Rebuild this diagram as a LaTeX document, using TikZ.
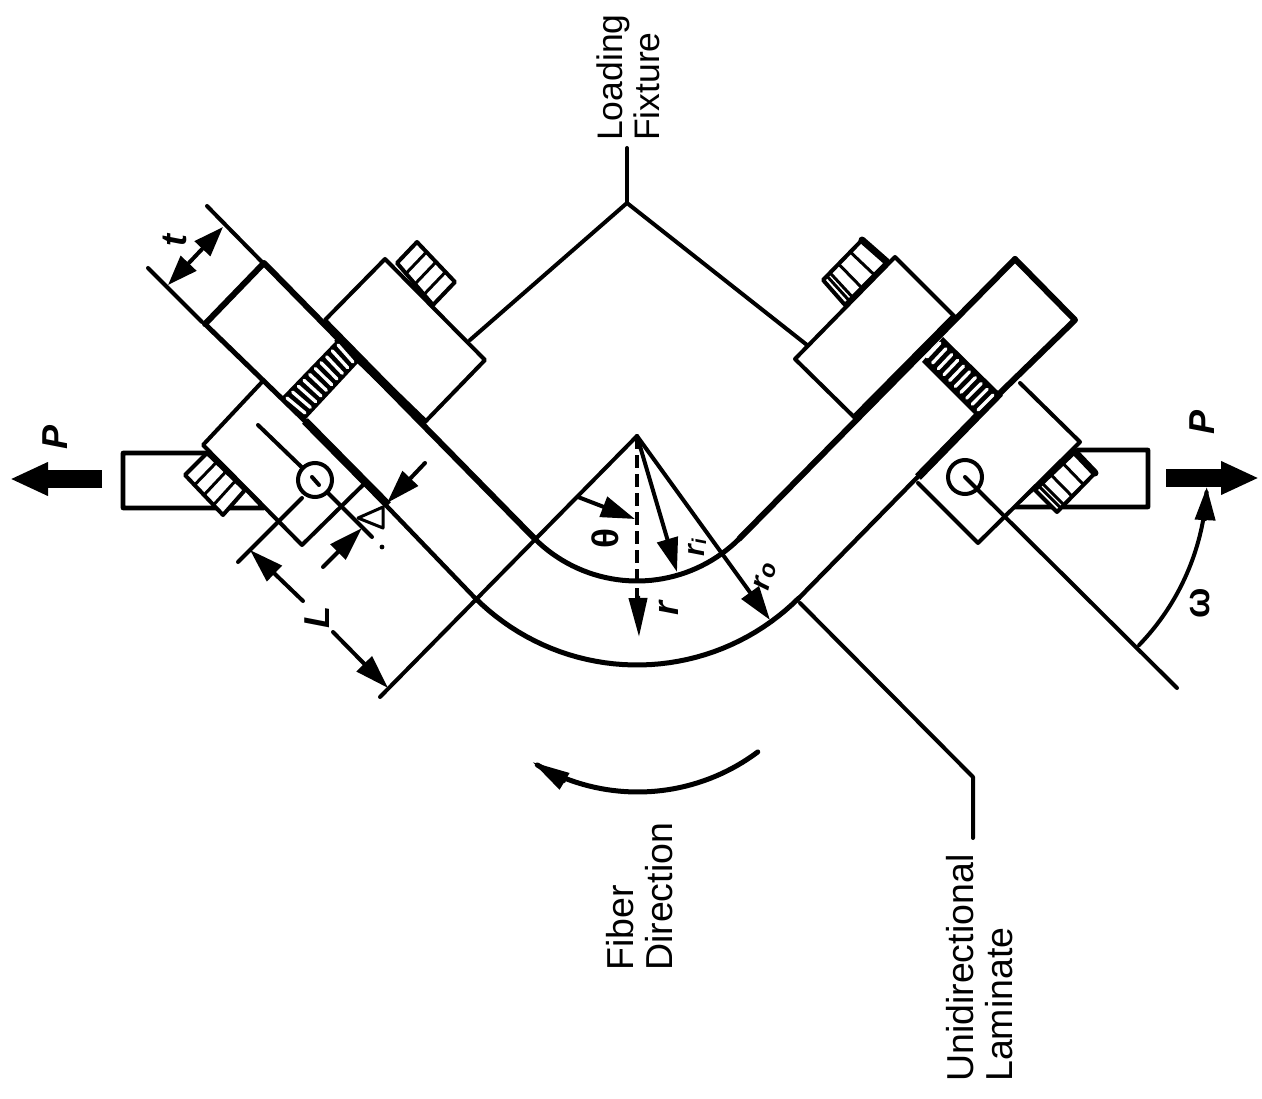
\documentclass[tikz,border=0pt]{standalone}
\usepackage{fontspec}
\setmainfont{Liberation Sans}
\usetikzlibrary{arrows.meta,calc}
\tikzset{
  thinl/.style={line width=4pt,line join=round,line cap=round},
  thickl/.style={line width=6pt,line join=round,line cap=round},
  heavyl/.style={line width=8pt,line join=round,line cap=butt},
  block/.style={thinl,fill=white},
  stripe/.style={white,line width=3.3pt,line cap=round},
  bigtip/.style={-{Triangle[length=34pt,width=21pt]}},
  both/.style={{Triangle[length=30pt,width=21pt]}-{Triangle[length=30pt,width=21pt]}},
  caption/.style={rotate=90,align=left,anchor=south west,inner sep=0pt,font=\fontsize{37.5}{39}\selectfont},
  sym/.style={rotate=90,inner sep=0pt,font=\fontsize{36}{36}\selectfont\bfseries\itshape},
  loadarrow/.style={line width=18pt,-{Triangle[length=38pt,width=31pt]}},
}
\begin{document}
\begin{tikzpicture}[x=1pt,y=-1pt]
\useasboundingbox (0,0) rectangle (1262,1099);
% key points
\coordinate (O) at (637,436);
\coordinate (LiE) at (534.5,538.5);
\coordinate (RiE) at (739.5,538.5);
\coordinate (LoE) at (475,598);
\coordinate (RoE) at (799,598);
\coordinate (LTa) at (264,263);
\coordinate (LTb) at (205,324);
\coordinate (RTa) at (1015,259);
\coordinate (RTb) at (1075,320);
% loading bars
\draw[thickl,line width=4.6pt,fill=white] (123,453) -- (212,453) -- (264,508) -- (123,508) -- cycle;
\draw[thickl,line width=4.6pt,fill=white] (1148,450) -- (1078,450) -- (1012,507) -- (1148,507) -- cycle;
% bolts
\draw[block] (397,263) -- (417,242) -- (455,282) -- (433,305) -- cycle;
\foreach \f in {0.25,0.5,0.75}
  \draw[thinl,line width=3pt] ($(417,242)!\f!(455,282)$) -- ($(397,263)!\f!(433,305)$);
\draw[block] (207,453) -- (185,475) -- (223,515) -- (245,490) -- cycle;
\foreach \f in {0.25,0.5,0.75}
  \draw[thinl,line width=3pt] ($(185,475)!\f!(223,515)$) -- ($(207,453)!\f!(245,490)$);
\draw[block] (862,240) -- (887,262) -- (845,305) -- (823,280) -- cycle;
\draw[thinl,line width=7pt] (862,240) -- (887,262);
\foreach \f in {0.3,0.6,0.82,0.9}
  \draw[thinl,line width=3pt] ($(862,240)!\f!(823,280)$) -- ($(887,262)!\f!(845,305)$);
\draw[block] (1075,452) -- (1095,473) -- (1057,512) -- (1035,490) -- cycle;
\draw[thinl,line width=7pt] (1075,452) -- (1095,473);
\foreach \f in {0.3,0.6,0.82,0.9}
  \draw[thinl,line width=3pt] ($(1075,452)!\f!(1035,490)$) -- ($(1095,473)!\f!(1057,512)$);
% fixture
\draw[thinl] (627,148) -- (627,203);
\draw[thinl] (470,340) -- (627,203) -- (807,345);
% blocks
\draw[block] (385,259) -- (485,360) -- (425,422) -- (325,320) -- cycle;
\draw[block] (895,257) -- (955,317) -- (855,418) -- (795,359) -- cycle;
\draw[block] (262,382) -- (203,445) -- (302,545) -- (365,483);
\draw[block] (1020,383) -- (1080,442) -- (978,543) -- (918,483);
% laminate edges
\draw[thickl] (LTb) -- (LTa) -- (LiE);
\draw[thickl,line width=5pt] (LTb) -- (305,421);
\draw[thinl,line width=4.4pt] (305,421) -- (LoE);
\draw[heavyl] (337,338) -- (425,423);
\draw[heavyl] (305,421) -- (388,505);
\draw[thickl] (RTa) -- (RTb) -- (1000,393);
\draw[thickl] (RTa) -- (RiE);
\draw[thinl,line width=4.4pt] (1000,393) -- (RoE);
\draw[heavyl] (955,317) -- (855,418);
\draw[heavyl] (1000,393) -- (918,477);
% laminate curves
\draw[thinl,line width=5pt] plot[domain=45:135,samples=40] ({637+145*cos(\x)},{436+145*sin(\x)});
\draw[thinl,line width=5pt] plot[domain=45:135,samples=40] ({637+229*cos(\x)},{436+229*sin(\x)});
% hatched tabs
\fill (337,340) -- (358,363) -- (305,420) -- (282,397) -- cycle;
\foreach \k in {0,...,9}{
  \pgfmathsetmacro\f{\k/9}
  \draw[stripe] ($(287,398)!\f!(338,345)$) -- ($(305,413)!\f!(353,362)$);
}
\fill (943,337) -- (1000,393) -- (977,417) -- (922,362) -- cycle;
\foreach \k in {0,...,9}{
  \pgfmathsetmacro\f{\k/9}
  \draw[stripe] ($(940,343)!\f!(993,395)$) -- ($(927,357)!\f!(978,410)$);
}
% pins
\node[circle,draw,line width=4pt,fill=white,minimum size=34pt,inner sep=0pt] (pinL) at (315,480) {};
\node[circle,draw,line width=4pt,fill=white,minimum size=34pt,inner sep=0pt] (pinR) at (965,477) {};
\draw[thinl] (258,425) -- (pinL);
\draw[thinl] (pinL) -- (372,537);
\draw[thinl] (312,477) -- (319,485);
\draw[thinl] (965,477) -- (pinR.south east) -- (1177,688);
% extension and radial lines
\draw[thinl] (207,206) -- (262,262);
\draw[thinl] (148,268) -- (202,322);
\draw[thinl] (302,498) -- (238,562);
\draw[thinl] (O) -- (380,697);
\draw[thinl,bigtip] (O) -- (770,620);
\draw[thinl,bigtip] (O) -- (677,572);
\draw[thinl,line width=3.6pt,dash pattern=on 13pt off 6pt,line cap=butt] (O) -- (637,598);
\draw[thinl,line cap=butt,-{Triangle[length=39pt,width=18pt]}] (638,596) -- (639,637);
\draw[thinl,bigtip] (578,497) -- (635,519);
% dimensions
\draw[thinl,both] (168,285) -- (223,227);
\draw[thinl,bigtip] (303,601) -- (250,550);
\draw[thinl,bigtip] (333,632) -- (388,688);
\draw[thinl,bigtip] (425,463) -- (387,503);
\draw[thinl,bigtip] (323,567) -- (362,528);
\draw[thinl,line width=3pt] (358,518) -- (383,507) -- (383,528) -- cycle;
\fill (382,547) circle (2.4pt);
% omega arc
\draw[thinl,-{Triangle[length=33pt,width=20pt]}] plot[domain=44:2.4,samples=40] ({965+242*cos(\x)},{477+242*sin(\x)});
% fiber direction arc
\draw[thinl,line width=5pt,-{Triangle[length=38pt,width=18pt]}] plot[domain=53.1:121.9,samples=40] ({637.7+200*cos(\x)},{592+200*sin(\x)});
% unidirectional leader
\draw[thinl] (800,603) -- (973,777) -- (973,838);
% load arrows
\draw[loadarrow] (102,479) -- (10,479);
\draw[loadarrow] (1166,478) -- (1259,478);
% labels
\node[caption,font=\fontsize{35.5}{37}\selectfont] (fix) at (660,141) {Loading\\Fixture};
\node[caption] (fib) at (673,971) {Fiber\\Direction};
\node[caption] (lam) at (1013,1082) {Unidirectional\\Laminate};
\node[sym] (pl) at (55,437) {P};
\node[sym] (pr) at (1202,422) {P};
\node[sym] (tl) at (175,241) {t};
\node[sym] (ll) at (317,618) {L};
\node[sym] (rl) at (669,608) {r};
\node[sym,font=\fontsize{30}{30}\selectfont\bfseries\itshape] (rii) at (697,548) {r\raisebox{-2pt}{\fontsize{20}{20}\selectfont i}};
\node[sym,rotate=-15,font=\fontsize{30}{30}\selectfont\bfseries\itshape] (roo) at (765,576) {r\kern1pt\raisebox{-2pt}{\fontsize{24}{24}\selectfont o}};
\node[sym,font=\fontsize{37}{37}\selectfont\bfseries] (th) at (605,538) {θ};
\node[sym,font=\fontsize{36}{36}\selectfont\bfseries] (om) at (1200,603) {ω};
\end{tikzpicture}
\end{document}
